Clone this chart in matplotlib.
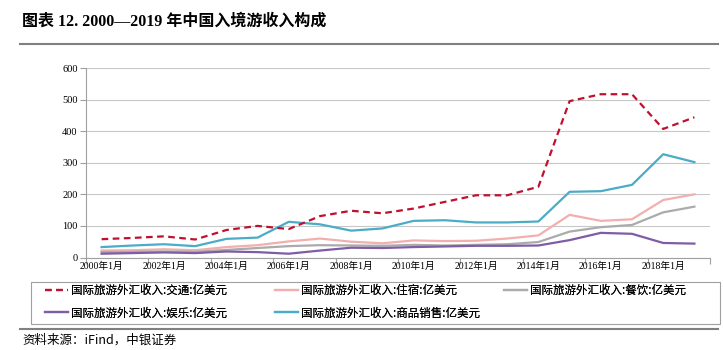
import matplotlib
matplotlib.use("Agg")
import matplotlib.pyplot as plt
from matplotlib.lines import Line2D
from matplotlib.patches import Rectangle

plt.rcParams['font.family'] = ['Liberation Serif', 'Noto Sans CJK SC', 'DejaVu Sans']

years = list(range(2000, 2020))
tick_labels = ["2000年1月", "2002年1月", "2004年1月", "2006年1月", "2008年1月",
               "2010年1月", "2012年1月", "2014年1月", "2016年1月", "2018年1月"]

transport = [58, 62, 67, 57, 87, 100, 90, 131, 148, 140, 155, 176, 197, 197, 224, 495, 517, 517, 407, 444]
accommodation = [22, 23, 26, 23, 33, 39, 51, 60, 50, 45, 54, 52, 53, 60, 70, 135, 116, 121, 182, 200]
catering = [17, 18, 19, 18, 24, 30, 36, 39, 38, 37, 40, 38, 40, 42, 49, 82, 96, 103, 143, 161]
entertainment = [12, 14, 16, 14, 19, 17, 12, 22, 31, 30, 33, 35, 37, 37, 38, 55, 78, 75, 46, 44]
commodity = [33, 38, 42, 36, 59, 63, 113, 105, 85, 92, 116, 118, 111, 111, 114, 208, 210, 230, 327, 302]

series_names = ["国际旅游外汇收入:交通:亿美元", "国际旅游外汇收入:住宿:亿美元",
                "国际旅游外汇收入:餐饮:亿美元", "国际旅游外汇收入:娱乐:亿美元",
                "国际旅游外汇收入:商品销售:亿美元"]

W, H = 723, 350
fig = plt.figure(figsize=(7.23, 3.5), dpi=100)
ax = fig.add_axes([86/W, 1-257.5/H, (710-86)/W, (257.5-68)/H])

x = list(range(len(years)))
lw = 1.6
l1, = ax.plot(x, transport, color='#C0102E', lw=lw, ls=(0, (3, 2)), label=series_names[0], zorder=5)
l2, = ax.plot(x, accommodation, color='#F2AFAE', lw=lw, label=series_names[1], zorder=3)
l3, = ax.plot(x, catering, color='#ABABAB', lw=lw, label=series_names[2], zorder=3)
l4, = ax.plot(x, entertainment, color='#7E5CA6', lw=lw, label=series_names[3], zorder=4)
l5, = ax.plot(x, commodity, color='#4AACC6', lw=lw, label=series_names[4], zorder=4)

ax.set_xlim(-0.5, len(years) - 0.5)
ax.set_ylim(0, 600)
ax.set_yticks(range(0, 601, 100))
ax.yaxis.grid(True, color='#C8C8C8', lw=0.8)
ax.set_axisbelow(True)
for s in ['top', 'right']:
    ax.spines[s].set_visible(False)
for s in ['left', 'bottom']:
    ax.spines[s].set_color('#A0A0A0')
    ax.spines[s].set_linewidth(0.8)

ax.set_xticks([i - 0.5 for i in range(0, len(years) + 1, 2)])
ax.set_xticklabels([])
ax.set_xticks(list(range(0, len(years), 2)), minor=True)
ax.set_xticklabels(tick_labels, minor=True)
ax.tick_params(axis='x', which='major', length=4, color='#A0A0A0', width=0.8)
ax.tick_params(axis='x', which='minor', length=0, pad=3, labelsize=7)
ax.tick_params(axis='y', length=4, color='#A0A0A0', width=0.8, labelsize=7.5, pad=2)

# title
fig.text(22/W, 1-22/H, "图表 12. 2000—2019 年中国入境游收入构成", fontsize=11.5,
         fontweight='bold', va='center', ha='left')
fig.add_artist(Line2D([20/W, 718/W], [1-44/H, 1-44/H], color='#808080', lw=1.5))

# legend: three columns placed like the reference, with one shared frame
fig.add_artist(Rectangle((31/W, 1-324/H), (720-31)/W, (324-282)/H, transform=fig.transFigure,
                         fill=False, edgecolor='#A0A0A0', lw=0.8))
cols = [([l1, l4], 43), ([l2, l5], 273), ([l3], 502)]
for handles, xpx in cols:
    lg = fig.legend(handles=handles, loc='upper left',
                    bbox_to_anchor=(xpx/W, 1-282/H), ncol=1, handlelength=2.0,
                    frameon=False, borderaxespad=0, borderpad=0.15,
                    labelspacing=0.85, handletextpad=0.25,
                    prop={'family': ['Noto Sans CJK SC'], 'size': 8.3})
    fig.add_artist(lg)

fig.add_artist(Line2D([20/W, 718/W], [1-329/H, 1-329/H], color='#808080', lw=1.5))
fig.text(22/W, 1-340/H, "资料来源：iFind，中银证券", fontsize=9, style='italic',
         va='center', ha='left', family=['Noto Sans CJK SC'])

fig.savefig("out.png", dpi=100)
